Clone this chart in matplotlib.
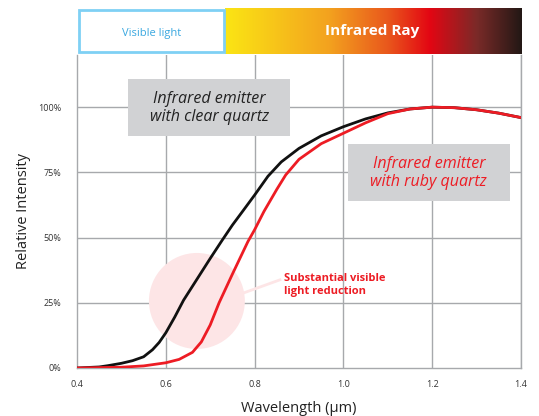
import numpy as np
import matplotlib
matplotlib.use("Agg")
import matplotlib.pyplot as plt
from matplotlib.colors import LinearSegmentedColormap
from matplotlib.patches import Ellipse, Rectangle

plt.rcParams['font.family'] = ['Open Sans', 'DejaVu Sans']

# data
wl_clear = [0.40, 0.45, 0.47, 0.50, 0.525, 0.55, 0.57, 0.585, 0.60, 0.62, 0.64, 0.67, 0.70,
            0.727, 0.75, 0.774, 0.80, 0.83, 0.86, 0.90, 0.95, 1.00, 1.05, 1.10, 1.15,
            1.20, 1.25, 1.30, 1.35, 1.40]
clear = [0.0, 0.004, 0.009, 0.018, 0.028, 0.043, 0.07, 0.098, 0.135, 0.195, 0.26, 0.34, 0.42,
         0.49, 0.548, 0.603, 0.663, 0.735, 0.79, 0.842, 0.89, 0.925, 0.955, 0.978, 0.993,
         1.0, 0.998, 0.99, 0.977, 0.96]

wl_ruby = [0.40, 0.50, 0.55, 0.60, 0.63, 0.66, 0.68, 0.70, 0.72, 0.75, 0.785, 0.80,
           0.821, 0.85, 0.87, 0.90, 0.95, 1.00, 1.05, 1.10, 1.15, 1.20, 1.25, 1.30, 1.35, 1.40]
ruby = [0.0, 0.003, 0.008, 0.02, 0.033, 0.06, 0.10, 0.165, 0.25, 0.36, 0.485, 0.53,
        0.60, 0.685, 0.74, 0.80, 0.86, 0.90, 0.94, 0.975, 0.993, 1.0, 0.998, 0.99, 0.977, 0.96]

xticks = [0.4, 0.6, 0.8, 1.0, 1.2, 1.4]
xticklabels = ['0.4', '0.6', '0.8', '1.0', '1.2', '1.4']
yticks = [0, 0.25, 0.5, 0.75, 1.0]
yticklabels = ['0%', '25%', '50%', '75%', '100%']

grid_c = '#a7a9ac'
red = '#ed1c24'
box_c = '#d1d2d4'

fig = plt.figure(figsize=(5.39, 4.16), dpi=100)
ax = fig.add_axes([0.1429, 0.1154, 0.8237, 0.7524])

ax.set_xlim(0.4, 1.4)
ax.set_ylim(0, 1.2)
ax.set_xticks(xticks)
ax.set_xticklabels(xticklabels)
ax.set_yticks(yticks)
ax.set_yticklabels(yticklabels)
ax.tick_params(length=0, labelsize=6.5, colors='#333333', pad=9)
ax.tick_params(axis='y', pad=11.5)

for x in xticks[1:]:
    ax.axvline(x, color=grid_c, lw=1, zorder=1)
for y in yticks[1:]:
    ax.axhline(y, color=grid_c, lw=1, zorder=1)
ax.spines['top'].set_visible(False)
for s in ['left', 'bottom', 'right']:
    ax.spines[s].set_color(grid_c)
    ax.spines[s].set_linewidth(1)

# highlight circle + pointer
ax.add_patch(Ellipse((0.67, 0.257), 0.216, 0.368, color='#fde5e6', zorder=2, lw=0))
ax.plot([0.774, 0.857], [0.287, 0.338], color='#fde5e6', lw=2, zorder=2)

ax.plot(wl_clear, clear, color='#111111', lw=2, zorder=4, solid_joinstyle='round')
ax.plot(wl_ruby, ruby, color=red, lw=2, zorder=5, solid_joinstyle='round')

ax.text(0.866, 0.318, 'Substantial visible\nlight reduction', color=red, fontsize=8,
        fontweight='bold', va='center', ha='left', linespacing=1.2, zorder=6)

# label boxes
ax.add_patch(Rectangle((0.515, 0.889), 0.365, 0.218, fc=box_c, ec='none', zorder=5))
ax.text(0.6975, 0.998, 'Infrared emitter\nwith clear quartz', color='#222222', fontsize=11.5,
        style='italic', ha='center', va='center', linespacing=1.15, zorder=6)
ax.add_patch(Rectangle((1.010, 0.640), 0.365, 0.218, fc=box_c, ec='none', zorder=5))
ax.text(1.1925, 0.749, 'Infrared emitter\nwith ruby quartz', color=red, fontsize=11.5,
        style='italic', ha='center', va='center', linespacing=1.15, zorder=6)

ax.set_xlabel('Wavelength (µm)', fontsize=10.5, color='#222222', labelpad=8)
ax.set_ylabel('Relative Intensity', fontsize=10.5, color='#222222', labelpad=5)

# spectrum band on top
bax = fig.add_axes([0.1429, 0.8702, 0.8237, 0.1106])
bax.set_xlim(0.4, 1.4)
bax.set_ylim(0, 1)
bax.axis('off')
cmap = LinearSegmentedColormap.from_list('ir', [(0, '#fbe514'), (0.35, '#f3a21f'),
                                                 (0.55, '#e9571c'), (0.69, '#e30613'),
                                                 (0.85, '#7a2a28'), (1, '#231815')])
grad = np.linspace(0, 1, 256).reshape(1, -1)
bax.imshow(grad, cmap=cmap, aspect='auto', extent=[0.733, 1.4, 0, 1])
bax.add_patch(Rectangle((0.404, 0.04), 0.327, 0.92, fc='white', ec='#7fd0f4', lw=2))
bax.text(0.567, 0.45, 'Visible light', color='#3aa8e0', fontsize=8, ha='center', va='center')
bax.text(1.065, 0.5, 'Infrared Ray', color='white', fontsize=11, fontweight='bold',
         ha='center', va='center')

fig.savefig('out.png', dpi=100)
